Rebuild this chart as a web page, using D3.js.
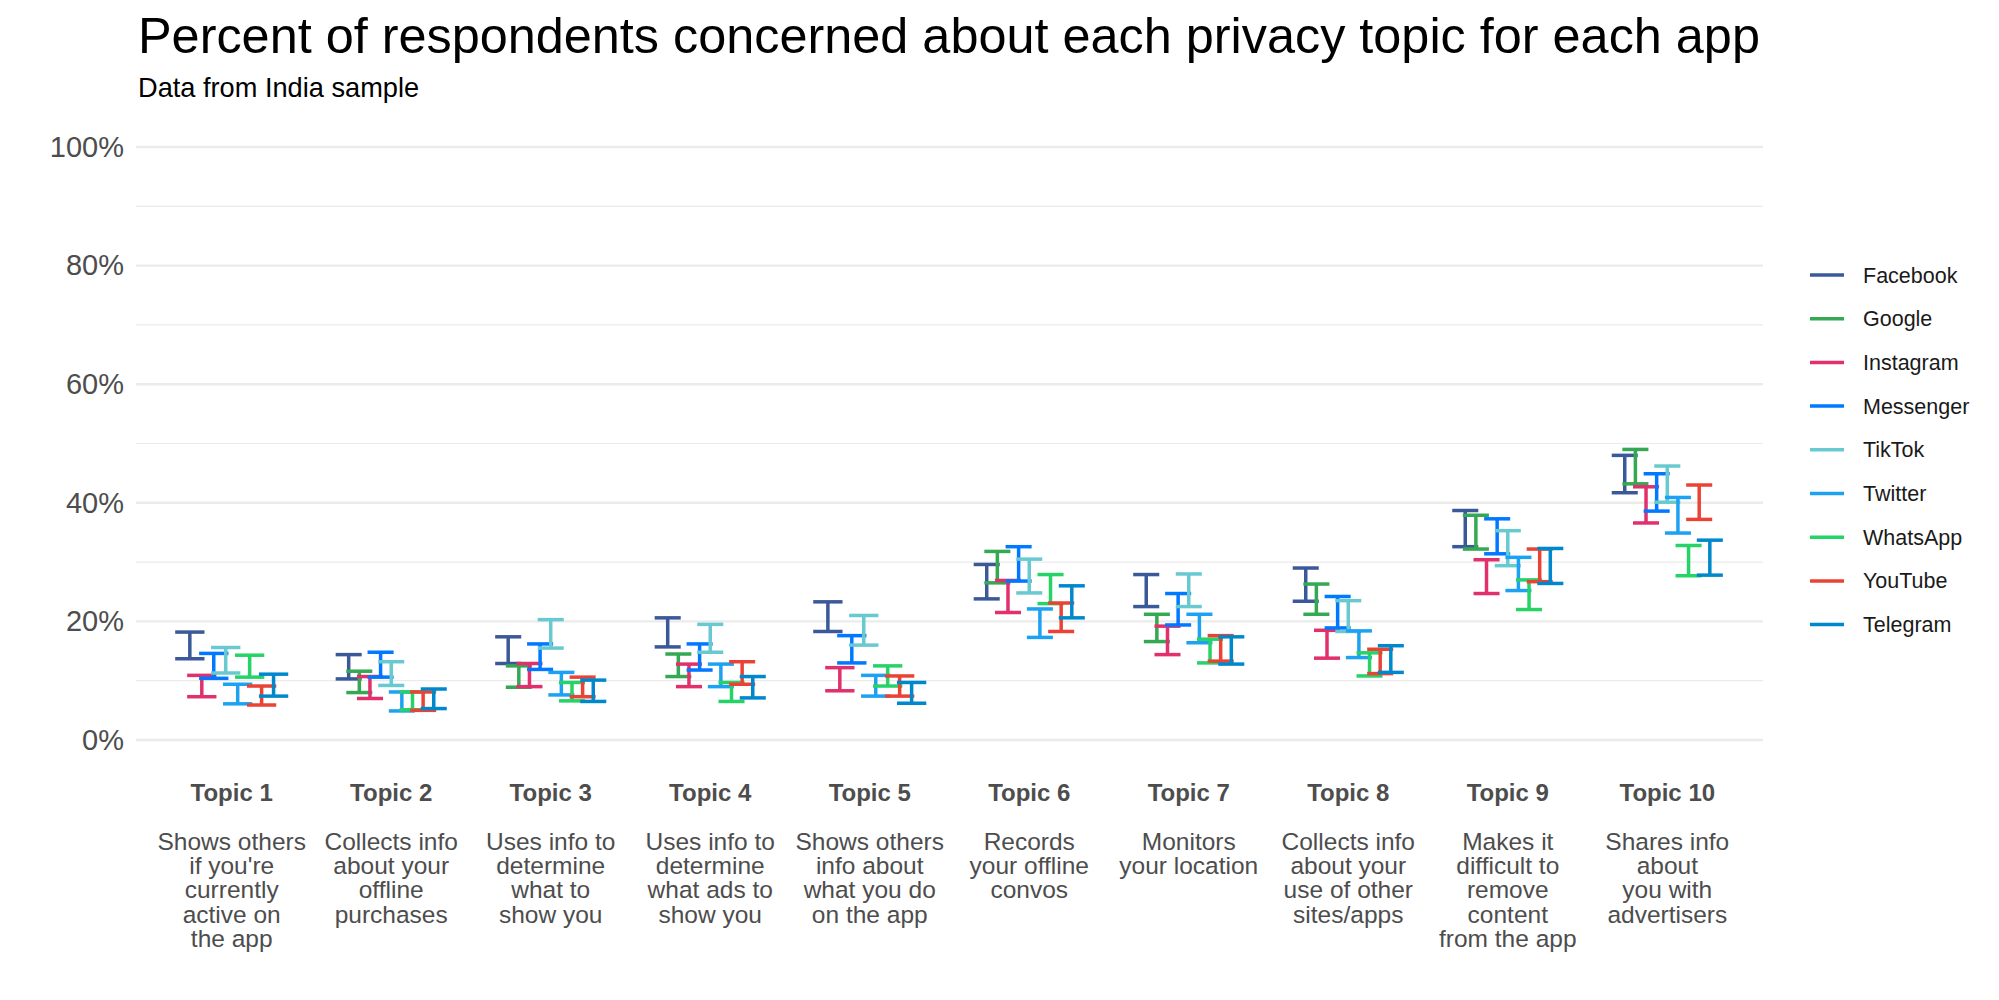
<!DOCTYPE html>
<html>
<head>
<meta charset="utf-8">
<script src="https://cdn.jsdelivr.net/npm/d3@7"></script>
<style>
  html, body { margin: 0; padding: 0; background: #fff; }
  svg { display: block; font-family: "Liberation Sans", Arial, Helvetica, sans-serif; }
</style>
</head>
<body>
<svg id="chart" width="1999" height="1000"></svg>
<script>
// ---------- DATA ----------
const topics = ["Topic 1","Topic 2","Topic 3","Topic 4","Topic 5","Topic 6","Topic 7","Topic 8","Topic 9","Topic 10"];
const topicDescriptions = [
  "Shows others\nif you're\ncurrently\nactive on\nthe app",
  "Collects info\nabout your\noffline\npurchases",
  "Uses info to\ndetermine\nwhat to\nshow you",
  "Uses info to\ndetermine\nwhat ads to\nshow you",
  "Shows others\ninfo about\nwhat you do\non the app",
  "Records\nyour offline\nconvos",
  "Monitors\nyour location",
  "Collects info\nabout your\nuse of other\nsites/apps",
  "Makes it\ndifficult to\nremove\ncontent\nfrom the app",
  "Shares info\nabout\nyou with\nadvertisers"
];
const apps = ["Facebook","Google","Instagram","Messenger","TikTok","Twitter","WhatsApp","YouTube","Telegram"];
const appColors = ["#3b5998","#34a853","#e1306c","#0078ff","#69c9d0","#1da1f2","#25d366","#ea4335","#0088cc"];

// lower / upper bounds (percent), one value per topic; null = not asked
const facebookLow   = [13.7, 10.3, 12.9, 15.7, 18.3, 23.8, 22.5, 23.4, 32.6, 41.7];
const facebookHigh  = [18.2, 14.4, 17.4, 20.6, 23.3, 29.6, 27.9, 29.0, 38.7, 48.0];
const googleLow     = [null, 8.0, 8.9, 10.7, null, 26.5, 16.6, 21.2, 32.2, 43.2];
const googleHigh    = [null, 11.6, 12.5, 14.5, null, 31.8, 21.2, 26.3, 37.9, 49.0];
const instagramLow  = [7.3, 7.0, 9.0, 9.0, 8.3, 21.5, 14.4, 13.8, 24.7, 36.6];
const instagramHigh = [10.9, 10.7, 12.9, 12.8, 12.2, 26.9, 19.2, 18.5, 30.4, 42.7];
const messengerLow  = [10.4, 10.6, 11.9, 11.8, 13.0, 26.8, 19.4, 18.9, 31.4, 38.6];
const messengerHigh = [14.6, 14.8, 16.2, 16.2, 17.6, 32.6, 24.7, 24.2, 37.3, 44.9];
const tiktokLow     = [11.3, 9.2, 15.5, 14.8, 16.0, 24.8, 22.5, 18.3, 29.4, 40.1];
const tiktokHigh    = [15.6, 13.2, 20.3, 19.5, 21.0, 30.5, 28.0, 23.5, 35.3, 46.2];
const twitterLow    = [6.1, 4.9, 7.6, 9.0, 7.4, 17.3, 16.4, 13.9, 25.2, 34.9];
const twitterHigh   = [9.4, 8.1, 11.4, 12.8, 10.9, 22.1, 21.2, 18.4, 30.8, 40.9];
const whatsappLow   = [10.6, 5.1, 6.6, 6.5, 9.1, 23.0, 13.0, 10.8, 22.0, 27.7];
const whatsappHigh  = [14.3, 8.1, 9.7, 9.7, 12.5, 27.9, 17.0, 14.7, 27.0, 32.8];
const youtubeLow    = [5.9, 5.0, 7.3, 9.4, 7.4, 18.3, 13.3, 11.2, 26.7, 37.2];
const youtubeHigh   = [9.1, 8.1, 10.6, 13.2, 10.8, 23.1, 17.6, 15.3, 32.2, 43.0];
const telegramLow   = [7.4, 5.3, 6.5, 7.1, 6.2, 20.6, 12.8, 11.4, 26.4, 27.8];
const telegramHigh  = [11.1, 8.6, 10.1, 10.7, 9.7, 26.0, 17.4, 15.9, 32.3, 33.7];

const yMajorTicks = [0, 0.2, 0.4, 0.6, 0.8, 1.0];
const yMinorTicks = [0.1, 0.3, 0.5, 0.7, 0.9];

const lows  = [facebookLow, googleLow, instagramLow, messengerLow, tiktokLow, twitterLow, whatsappLow, youtubeLow, telegramLow];
const highs = [facebookHigh, googleHigh, instagramHigh, messengerHigh, tiktokHigh, twitterHigh, whatsappHigh, youtubeHigh, telegramHigh];

// ---------- LAYOUT ----------
const svg = d3.select("#chart");
const panel = { left: 136, right: 1763, top: 147, bottom: 740 };

const x = d3.scaleBand().domain(topics).range([panel.left, panel.right]).paddingInner(0).paddingOuter(0.1);
const y = d3.scaleLinear().domain([0, 1]).range([panel.bottom, panel.top]);
const color = d3.scaleOrdinal().domain(apps).range(appColors);

const bw = x.bandwidth();
const dodgeFrac = 0.6;     // share of band used by dodged positions
const capFrac = 1.47;      // total cap width (band units) shared among groups

// build rows
const rows = [];
topics.forEach((t, ti) => {
  const present = apps.filter((a, ai) => lows[ai][ti] !== null && highs[ai][ti] !== null);
  const sub = d3.scaleBand().domain(present).range([-dodgeFrac * bw / 2, dodgeFrac * bw / 2]);
  const capW = capFrac * bw / present.length;
  present.forEach(a => {
    const ai = apps.indexOf(a);
    rows.push({
      topic: t, app: a, ai,
      lo: lows[ai][ti] / 100, hi: highs[ai][ti] / 100,
      cx: x(t) + bw / 2 + sub(a) + sub.bandwidth() / 2,
      capW
    });
  });
});

// ---------- GRID ----------
const grid = svg.append("g");
grid.selectAll("line.minor").data(yMinorTicks).join("line")
  .attr("x1", panel.left).attr("x2", panel.right)
  .attr("y1", d => y(d)).attr("y2", d => y(d))
  .attr("stroke", "#ebebeb").attr("stroke-width", 1.2);
grid.selectAll("line.major").data(yMajorTicks).join("line")
  .attr("x1", panel.left).attr("x2", panel.right)
  .attr("y1", d => y(d)).attr("y2", d => y(d))
  .attr("stroke", "#ebebeb").attr("stroke-width", 2.4);

// ---------- Y AXIS ----------
const yAxis = d3.axisLeft(y).tickValues(yMajorTicks).tickFormat(d3.format(".0%")).tickSize(0).tickPadding(12);
const yg = svg.append("g").attr("transform", `translate(${panel.left},0)`).call(yAxis);
yg.select(".domain").remove();
yg.selectAll("text").attr("font-size", 29).attr("fill", "#4d4d4d")
  .attr("font-family", '"Liberation Sans", Arial, Helvetica, sans-serif');

// ---------- X AXIS (labels) ----------
const xg = svg.append("g");
topics.forEach((t, ti) => {
  const cx = x(t) + bw / 2;
  xg.append("text").attr("x", cx).attr("y", 801).attr("text-anchor", "middle")
    .attr("font-size", 24).attr("font-weight", "bold").attr("fill", "#4d4d4d").text(t);
  const lines = topicDescriptions[ti].split("\n");
  const tx = xg.append("text").attr("text-anchor", "middle").attr("font-size", 24.5).attr("fill", "#4d4d4d");
  lines.forEach((ln, li) => {
    tx.append("tspan").attr("x", cx).attr("y", 850 + li * 24.2).text(ln);
  });
});

// ---------- ERROR BARS ----------
const bars = svg.append("g");
const eb = bars.selectAll("g.eb").data(rows).join("g")
  .attr("stroke", d => color(d.app)).attr("stroke-width", 3.5).attr("fill", "none");
eb.append("line").attr("x1", d => d.cx).attr("x2", d => d.cx)
  .attr("y1", d => y(d.lo)).attr("y2", d => y(d.hi));
eb.append("line").attr("x1", d => d.cx - d.capW / 2).attr("x2", d => d.cx + d.capW / 2)
  .attr("y1", d => y(d.hi)).attr("y2", d => y(d.hi));
eb.append("line").attr("x1", d => d.cx - d.capW / 2).attr("x2", d => d.cx + d.capW / 2)
  .attr("y1", d => y(d.lo)).attr("y2", d => y(d.lo));

// ---------- LEGEND ----------
const legend = svg.append("g").attr("transform", "translate(1810,275)");
const li = legend.selectAll("g").data(apps).join("g")
  .attr("transform", (d, i) => `translate(0,${i * 43.7})`);
li.append("line").attr("x1", 0).attr("x2", 34).attr("y1", 0).attr("y2", 0)
  .attr("stroke", d => color(d)).attr("stroke-width", 3.5);
li.append("text").attr("x", 53).attr("y", 0).attr("dy", "0.35em")
  .attr("font-size", 21.5).attr("fill", "#1a1a1a").text(d => d);

// ---------- TITLES ----------
svg.append("text").attr("x", 138).attr("y", 53).attr("font-size", 50.4).attr("fill", "#000")
  .text("Percent of respondents concerned about each privacy topic for each app");
svg.append("text").attr("x", 138).attr("y", 97).attr("font-size", 27.2).attr("fill", "#000")
  .text("Data from India sample");
</script>
</body>
</html>
